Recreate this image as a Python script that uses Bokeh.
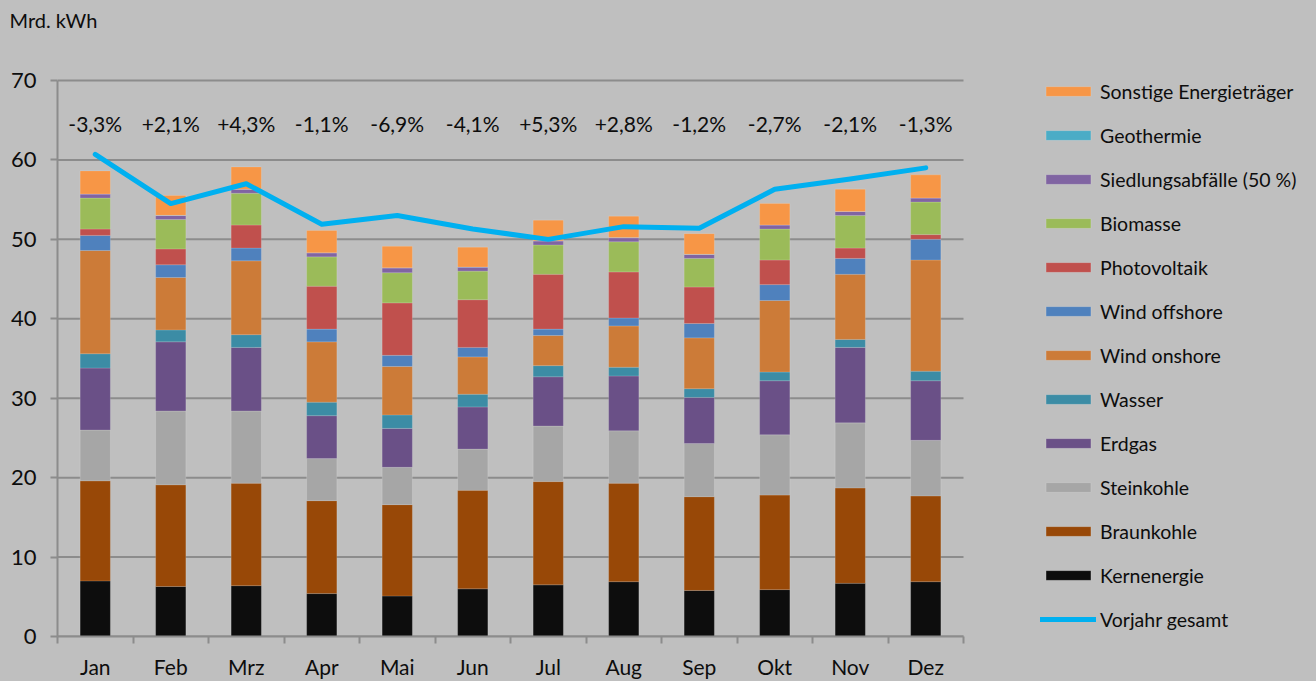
from bokeh.plotting import figure
from bokeh.models import ColumnDataSource, Range1d, FixedTicker, Legend, LegendItem
from bokeh.core.properties import value
from bokeh.embed import file_html
from bokeh.resources import INLINE
import numpy as np

months = ["Jan", "Feb", "Mrz", "Apr", "Mai", "Jun", "Jul", "Aug", "Sep", "Okt", "Nov", "Dez"]

kernenergie = [7.0, 6.3, 6.4, 5.4, 5.1, 6.0, 6.5, 6.9, 5.8, 5.9, 6.7, 6.9]
braunkohle = [12.6, 12.8, 12.9, 11.7, 11.5, 12.4, 13.0, 12.4, 11.8, 11.9, 12.0, 10.8]
steinkohle = [6.4, 9.3, 9.1, 5.3, 4.7, 5.2, 7.0, 6.6, 6.7, 7.6, 8.2, 7.0]
erdgas = [7.8, 8.7, 8.0, 5.4, 4.9, 5.3, 6.2, 6.9, 5.8, 6.8, 9.5, 7.5]
wasser = [1.8, 1.5, 1.6, 1.7, 1.7, 1.6, 1.4, 1.1, 1.1, 1.1, 1.0, 1.2]
wind_onshore = [13.0, 6.6, 9.3, 7.6, 6.1, 4.7, 3.8, 5.2, 6.4, 9.0, 8.2, 14.0]
wind_offshore = [1.9, 1.6, 1.6, 1.6, 1.4, 1.2, 0.8, 1.0, 1.8, 2.0, 2.0, 2.6]
photovoltaik = [0.8, 2.0, 2.9, 5.4, 6.6, 6.0, 6.9, 5.8, 4.6, 3.1, 1.3, 0.6]
biomasse = [3.9, 3.7, 4.0, 3.7, 3.8, 3.6, 3.7, 3.8, 3.6, 3.9, 4.1, 4.1]
siedlungsabfaelle = [0.5, 0.5, 0.5, 0.5, 0.6, 0.5, 0.5, 0.5, 0.5, 0.5, 0.5, 0.5]
geothermie = [0.02] * 12
sonstige = [2.9, 2.5, 2.8, 2.8, 2.7, 2.5, 2.6, 2.7, 2.6, 2.7, 2.8, 2.9]

vorjahr_gesamt = [60.7, 54.5, 57.0, 51.9, 53.0, 51.3, 50.0, 51.6, 51.4, 56.3, 57.6, 59.0]
veraenderung = ["-3,3%", "+2,1%", "+4,3%", "-1,1%", "-6,9%", "-4,1%",
                "+5,3%", "+2,8%", "-1,2%", "-2,7%", "-2,1%", "-1,3%"]

y_ticks = [0, 10, 20, 30, 40, 50, 60, 70]

series_names = ["Kernenergie", "Braunkohle", "Steinkohle", "Erdgas", "Wasser", "Wind onshore",
                "Wind offshore", "Photovoltaik", "Biomasse", "Siedlungsabfälle (50 %)",
                "Geothermie", "Sonstige Energieträger"]
series_values = [kernenergie, braunkohle, steinkohle, erdgas, wasser, wind_onshore,
                 wind_offshore, photovoltaik, biomasse, siedlungsabfaelle, geothermie, sonstige]
series_colors = ["#0d0d0d", "#984807", "#a6a6a6", "#6a5087", "#3c8ca5", "#cc7b38",
                 "#4f81bd", "#c0504d", "#9bbb59", "#8064a2", "#4bacc6", "#f79646"]

BG = "#bfbfbf"
AX = "#8c8c8c"
FONT = "Lato"
TXT = "#0d0d0d"

# layout (pixels)
W, H = 1316, 681
FL, FR_AX, FT_AX, FB = 57, 963, 80, 636   # plot-area edges of the reference chart
TOP = 36
n = len(months)
ymax = y_ticks[-1]
x_end = -0.5 + n * (W - FL) / (FR_AX - FL)
y_end = ymax * (FB - TOP) / (FB - FT_AX)

x_pos = list(range(n))
data = {"x": x_pos, "month": months, "pct": veraenderung, "vorjahr": vorjahr_gesamt}
keys = []
for i, vals in enumerate(series_values):
    k = "s%d" % i
    keys.append(k)
    data[k] = vals
src = ColumnDataSource(data)

p = figure(width=W, height=H, x_range=Range1d(-0.5, x_end), y_range=Range1d(0, y_end),
           output_backend="svg", toolbar_location=None,
           min_border_left=FL, min_border_right=0, min_border_top=TOP, min_border_bottom=H - FB,
           background_fill_color=BG, border_fill_color=BG, outline_line_color=None)

# horizontal gridlines limited to the category area
p.segment(x0=-0.5, x1=n - 0.5, y0=y_ticks, y1=y_ticks, line_color=AX, line_width=2)

bars = p.vbar_stack(keys, x="x", width=0.4, color=series_colors, source=src,
                    line_color="white", line_alpha=0.15, line_width=1)

line = p.line(x="x", y="vorjahr", source=src, line_color="#00b0f0", line_width=5,
              line_join="round", line_cap="round")

p.text(x="x", y=64.6, text="pct", source=src, text_align="center", text_baseline="middle",
       text_font=value(FONT), text_font_size="21px", text_color=TXT)

# x axis: labels at centres, tick marks at category boundaries
p.xaxis.ticker = FixedTicker(ticks=x_pos, minor_ticks=[i - 0.5 for i in range(n + 1)])
p.xaxis.bounds = (-0.5, n - 0.5)
p.xaxis.major_label_overrides = {i: m for i, m in enumerate(months)}
p.xaxis.major_tick_out = 0
p.xaxis.major_tick_in = 0
p.xaxis.minor_tick_out = 7
p.xaxis.minor_tick_in = 0
p.xaxis.minor_tick_line_color = AX
p.xaxis.minor_tick_line_width = 2
p.xaxis.major_label_standoff = 10
p.xaxis.major_label_text_font = FONT
p.xaxis.major_label_text_font_size = "21px"
p.xaxis.major_label_text_color = TXT
p.xaxis.axis_line_color = AX
p.xaxis.axis_line_width = 2

p.yaxis.ticker = FixedTicker(ticks=y_ticks)
p.yaxis.bounds = (0, ymax)
p.yaxis.major_tick_out = 7
p.yaxis.major_tick_in = 0
p.yaxis.minor_tick_out = 0
p.yaxis.minor_tick_in = 0
p.yaxis.major_label_standoff = 14
p.yaxis.major_label_text_font = FONT
p.yaxis.major_label_text_font_size = "22px"
p.yaxis.major_label_text_color = TXT
p.yaxis.axis_line_color = AX
p.yaxis.axis_line_width = 2
p.yaxis.major_tick_line_color = AX
p.yaxis.major_tick_line_width = 2

p.xgrid.visible = False
p.ygrid.visible = False

p.title.text = "Mrd. kWh"
p.title.align = "left"
p.title.offset = -48
p.title.standoff = 10
p.title.text_font = FONT
p.title.text_font_size = "20px"
p.title.text_font_style = "normal"
p.title.text_color = TXT

items = [LegendItem(label=series_names[i], renderers=[bars[i]]) for i in range(len(bars) - 1, -1, -1)]
items.append(LegendItem(label="Vorjahr gesamt", renderers=[line]))
legend = Legend(items=items, location=(1040 - FL, 5), orientation="vertical",
                padding=0, margin=0, spacing=20, label_height=24, glyph_height=12, glyph_width=56,
                label_standoff=4, label_text_font=FONT, label_text_font_size="19.5px",
                label_text_color=TXT, label_text_baseline="middle",
                background_fill_alpha=0, border_line_color=None)
p.add_layout(legend)

html = file_html(p, INLINE)
html = html.replace("<head>", "<head><style>body{background:#bfbfbf;}</style>", 1)
open("out.html", "w").write(html)
